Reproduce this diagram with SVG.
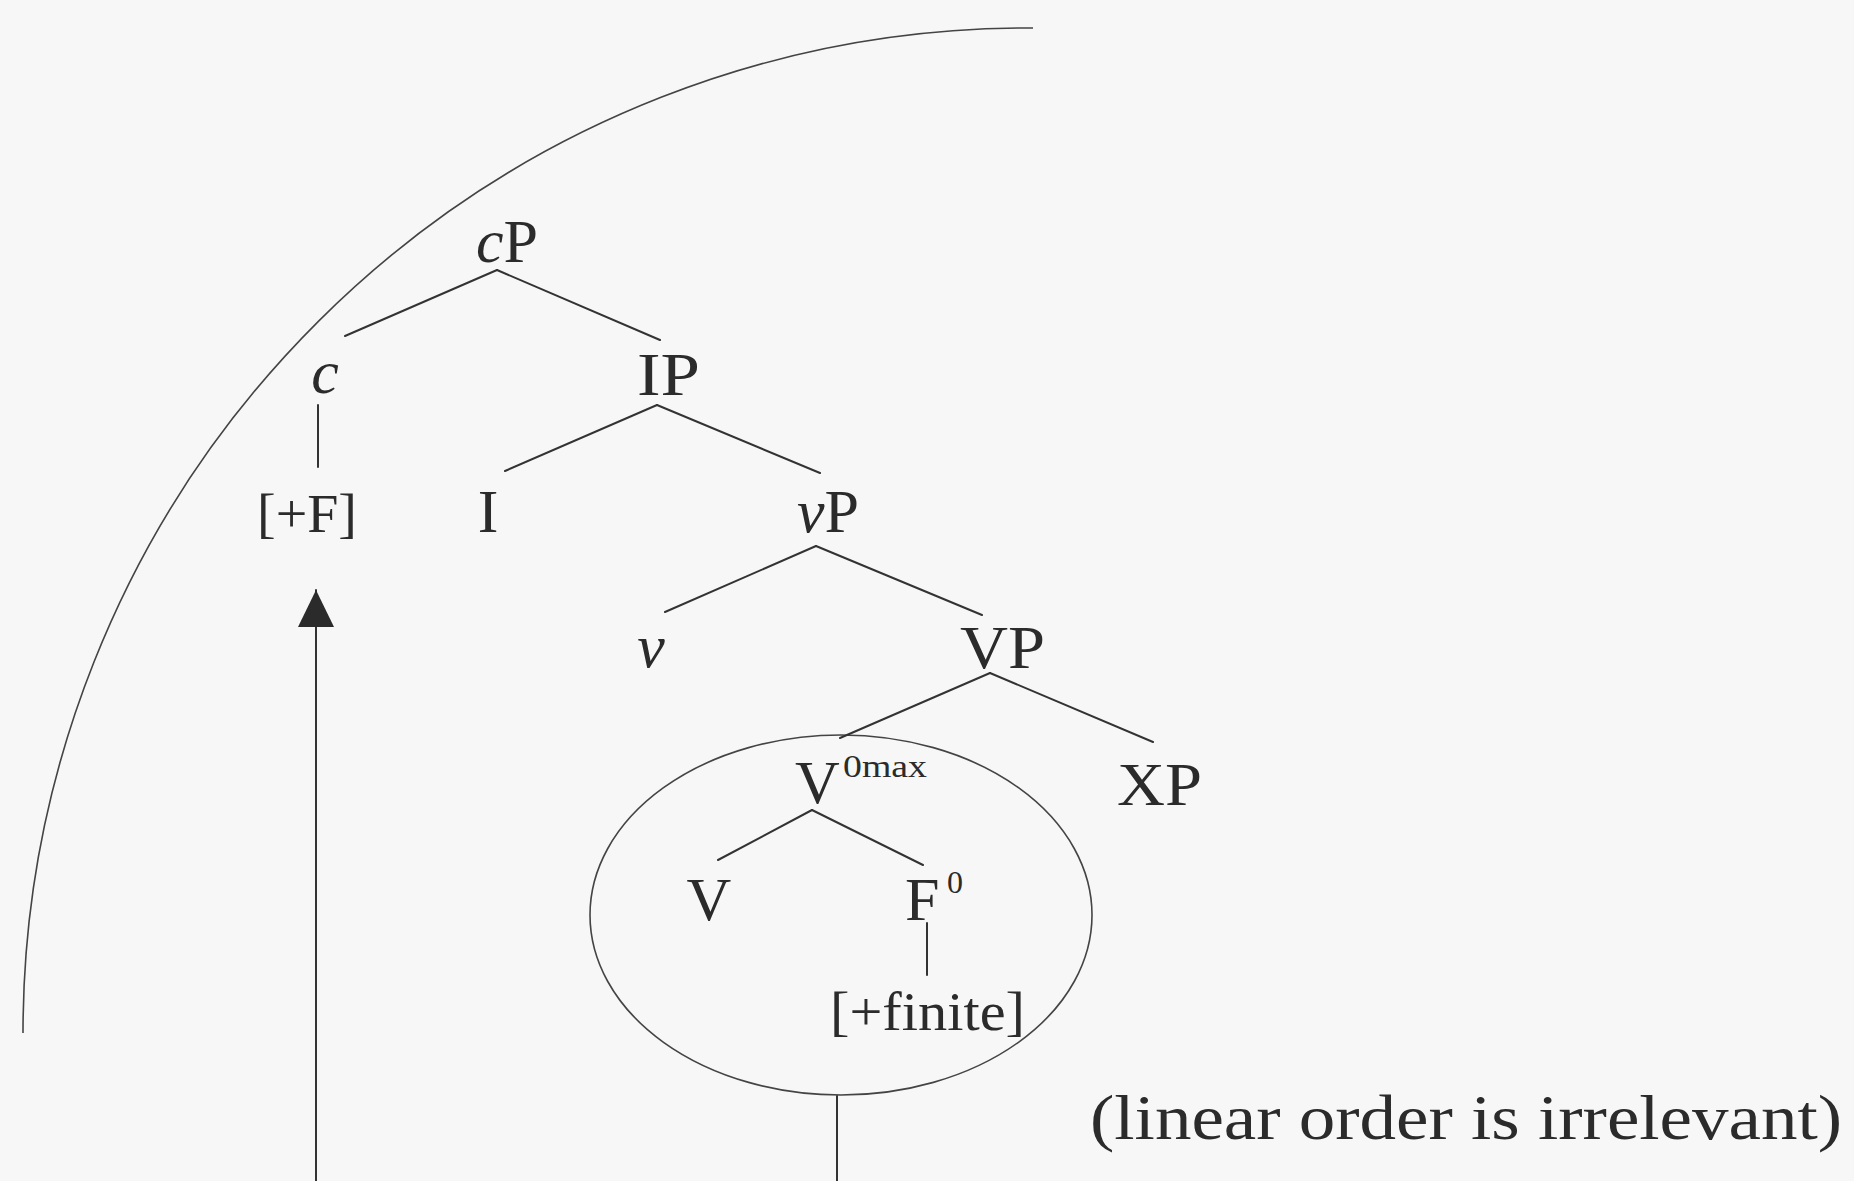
<svg xmlns="http://www.w3.org/2000/svg" width="1854" height="1181" viewBox="0 0 1854 1181">
<defs>
<style>
.bg{fill:#f8f7f8}
.ln{stroke:#333;stroke-width:2;fill:none;stroke-linecap:round}
.thin{stroke:#444;stroke-width:1.6;fill:none}
.t{font-family:"Liberation Serif","Times New Roman",serif;font-size:62px;fill:#2b2b2b}
.s{font-size:54px}
.sup{font-size:32px}
.it{font-style:italic}
.mid{text-anchor:middle}
</style>
<marker id="arrow" markerWidth="40" markerHeight="36" refX="37" refY="18" orient="auto" markerUnits="userSpaceOnUse">
<path d="M0,0 L37,18 L0,36 z" fill="#2b2b2b"/>
</marker>
</defs>
<rect class="bg" x="0" y="0" width="1854" height="1181"/>
<g id="connectors">
<path id="boundary-arc" class="thin" d="M1033,28 A1005,1005 0 0 0 23,1033"/>
<ellipse id="v0max-circle" class="thin" cx="841" cy="915" rx="251" ry="180"/>
<line class="ln" x1="497" y1="270" x2="345" y2="336"/>
<line class="ln" x1="497" y1="270" x2="660" y2="340"/>
<line class="ln" x1="657" y1="405" x2="505" y2="471"/>
<line class="ln" x1="657" y1="405" x2="820" y2="473"/>
<line class="ln" x1="816" y1="546" x2="665" y2="612"/>
<line class="ln" x1="816" y1="546" x2="982" y2="615"/>
<line class="ln" x1="990" y1="673" x2="840" y2="738"/>
<line class="ln" x1="990" y1="673" x2="1153" y2="742"/>
<line class="ln" x1="812" y1="810" x2="718" y2="860"/>
<line class="ln" x1="812" y1="810" x2="923" y2="865"/>
<line class="ln" x1="318" y1="405" x2="318" y2="467"/>
<line class="ln" x1="927" y1="923" x2="927" y2="975"/>
<line class="ln" x1="837" y1="1096" x2="837" y2="1181"/>
<line class="ln" x1="316" y1="1181" x2="316" y2="590" marker-end="url(#arrow)"/>
</g>
<g id="node-cP"><text class="t" x="476" y="262"><tspan class="it">c</tspan>P</text></g>
<g id="node-c"><text class="t it mid" x="325" y="393">c</text></g>
<g id="node-IP"><text class="t" x="637" y="395" textLength="63" lengthAdjust="spacingAndGlyphs">IP</text></g>
<g id="node-plusF"><text class="t s" x="257" y="532" textLength="100" lengthAdjust="spacingAndGlyphs">[+F]</text></g>
<g id="node-I"><text class="t mid" x="488" y="532">I</text></g>
<g id="node-vP"><text class="t" x="797" y="532"><tspan class="it">v</tspan>P</text></g>
<g id="node-v"><text class="t it mid" x="651" y="667">v</text></g>
<g id="node-VP"><text class="t" x="960" y="668" textLength="85" lengthAdjust="spacingAndGlyphs">VP</text></g>
<g id="node-V0max"><text class="t" x="795" y="803">V</text><text class="t sup" x="843" y="777" textLength="84" lengthAdjust="spacingAndGlyphs">0max</text></g>
<g id="node-XP"><text class="t" x="1117" y="805" textLength="85" lengthAdjust="spacingAndGlyphs">XP</text></g>
<g id="node-V"><text class="t mid" x="709" y="920">V</text></g>
<g id="node-F0"><text class="t" x="905" y="920">F</text><text class="t sup" x="947" y="893">0</text></g>
<g id="node-finite"><text class="t s" x="830" y="1030" textLength="195" lengthAdjust="spacingAndGlyphs">[+finite]</text></g>
<g id="note"><text class="t" style="font-size:63px" x="1090" y="1139" textLength="752" lengthAdjust="spacingAndGlyphs">(linear order is irrelevant)</text></g>
</svg>
